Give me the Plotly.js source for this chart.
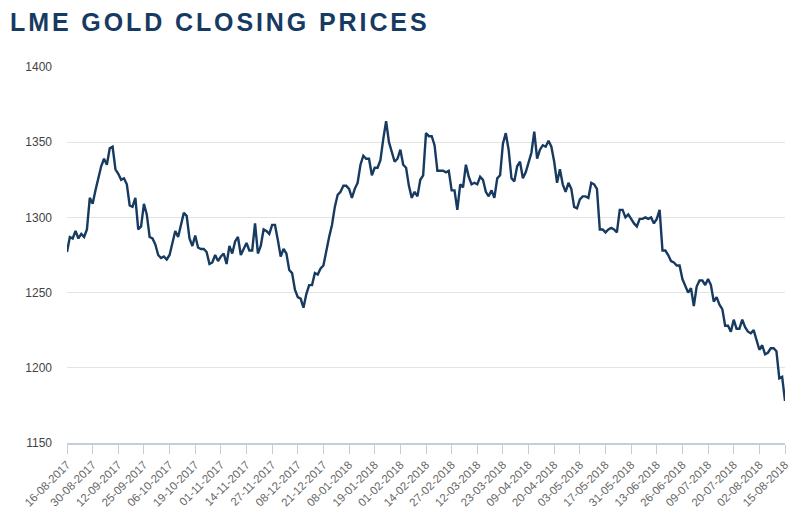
<!DOCTYPE html>
<html>
<head>
<meta charset="utf-8">
<script src="https://cdn.plot.ly/plotly-3.0.1.min.js"></script>
<style>
html,body{margin:0;padding:0;background:#fff;}
#chart{width:800px;height:520px;}
.gtitle{letter-spacing:2.9px;}
</style>
</head>
<body>
<div id="chart"></div>
<script>
// Tick labels: every 9th LME trading day
const tickLabels = ["16-08-2017","30-08-2017","12-09-2017","25-09-2017","06-10-2017","19-10-2017","01-11-2017","14-11-2017","27-11-2017","08-12-2017","21-12-2017","08-01-2018","19-01-2018","01-02-2018","14-02-2018","27-02-2018","12-03-2018","23-03-2018","09-04-2018","20-04-2018","03-05-2018","17-05-2018","31-05-2018","13-06-2018","26-06-2018","09-07-2018","20-07-2018","02-08-2018","15-08-2018"];
const daysPerTick = 9;

// Closing prices (USD/oz), one per trading day
const prices = [
1277,1287,1286,1291,1286,1289,1287,1292,1313,1309,
1318,1326,1334,1339,1335,1346,1347,1332,1329,1325,
1326,1322,1308,1307,1313,1292,1294,1309,1302,1287,
1286,1282,1275,1273,1274,1272,1275,1283,1291,1287,
1295,1303,1301,1286,1281,1288,1280,1279,1279,1277,
1269,1270,1275,1271,1274,1276,1269,1281,1276,1284,
1287,1275,1279,1283,1278,1278,1296,1276,1281,1292,
1291,1289,1295,1295,1285,1274,1279,1276,1265,1263,
1252,1247,1246,1240,1249,1255,1255,1263,1262,1266,
1268,1278,1287,1295,1307,1315,1317,1321,1321,1319,
1313,1319,1323,1335,1341,1339,1339,1328,1333,1333,
1338,1352,1364,1350,1343,1337,1339,1345,1335,1333,
1321,1313,1317,1314,1325,1328,1356,1354,1354,1348,
1331,1331,1331,1330,1331,1318,1318,1305,1322,1320,
1335,1327,1322,1323,1322,1327,1325,1317,1314,1318,
1313,1326,1328,1349,1356,1345,1326,1324,1334,1337,
1326,1330,1337,1343,1357,1339,1345,1348,1347,1351,
1347,1337,1323,1332,1322,1317,1323,1319,1307,1306,
1312,1314,1314,1313,1323,1322,1319,1292,1292,1290,
1292,1293,1292,1290,1305,1305,1300,1302,1299,1296,
1294,1299,1299,1300,1299,1300,1296,1299,1305,1278,
1278,1275,1271,1270,1268,1268,1259,1254,1250,1253,
1241,1254,1258,1258,1255,1259,1255,1244,1247,1242,
1239,1228,1228,1224,1232,1226,1226,1232,1227,1224,
1223,1225,1218,1212,1215,1209,1210,1213,1213,1211,
1193,1194,1178
];

const dayIndex = prices.map((_, i) => i);
const tickVals = tickLabels.map((_, k) => k * daysPerTick);

const trace = {
  x: dayIndex,
  y: prices,
  type: 'scatter',
  mode: 'lines',
  line: {color: '#163a60', width: 2.4},
  hoverinfo: 'skip'
};

const layout = {
  width: 800, height: 520,
  margin: {l: 67, r: 15, t: 67, b: 77},
  paper_bgcolor: '#ffffff',
  plot_bgcolor: '#ffffff',
  showlegend: false,
  title: {
    text: '<b>LME GOLD CLOSING PRICES</b>',
    x: 0.0125, xanchor: 'left', xref: 'container',
    y: 0.975, yanchor: 'top', yref: 'container',
    font: {family: 'Liberation Sans, Arial, sans-serif', size: 25, color: '#173a62'}
  },
  xaxis: {
    range: [0, prices.length - 1],
    tickmode: 'array',
    tickvals: tickVals,
    ticktext: tickLabels,
    tickangle: -45,
    ticks: 'outside',
    ticklen: 9,
    tickcolor: '#c5cdd9',
    showline: true,
    linecolor: '#c5cdd9',
    linewidth: 1.5,
    showgrid: false,
    zeroline: false,
    tickfont: {family: 'Liberation Sans, Arial, sans-serif', size: 11.5, color: '#666666'}
  },
  yaxis: {
    range: [1150, 1400],
    tickvals: [1150, 1200, 1250, 1300, 1350, 1400],
    showgrid: true,
    gridcolor: '#e3e3e3',
    gridwidth: 1,
    zeroline: false,
    showline: false,
    ticks: '',
    ticklabelstandoff: 14,
    tickfont: {family: 'Liberation Sans, Arial, sans-serif', size: 12, color: '#444444'}
  }
};

Plotly.newPlot('chart', [trace], layout, {staticPlot: true, displayModeBar: false});
</script>
</body>
</html>
